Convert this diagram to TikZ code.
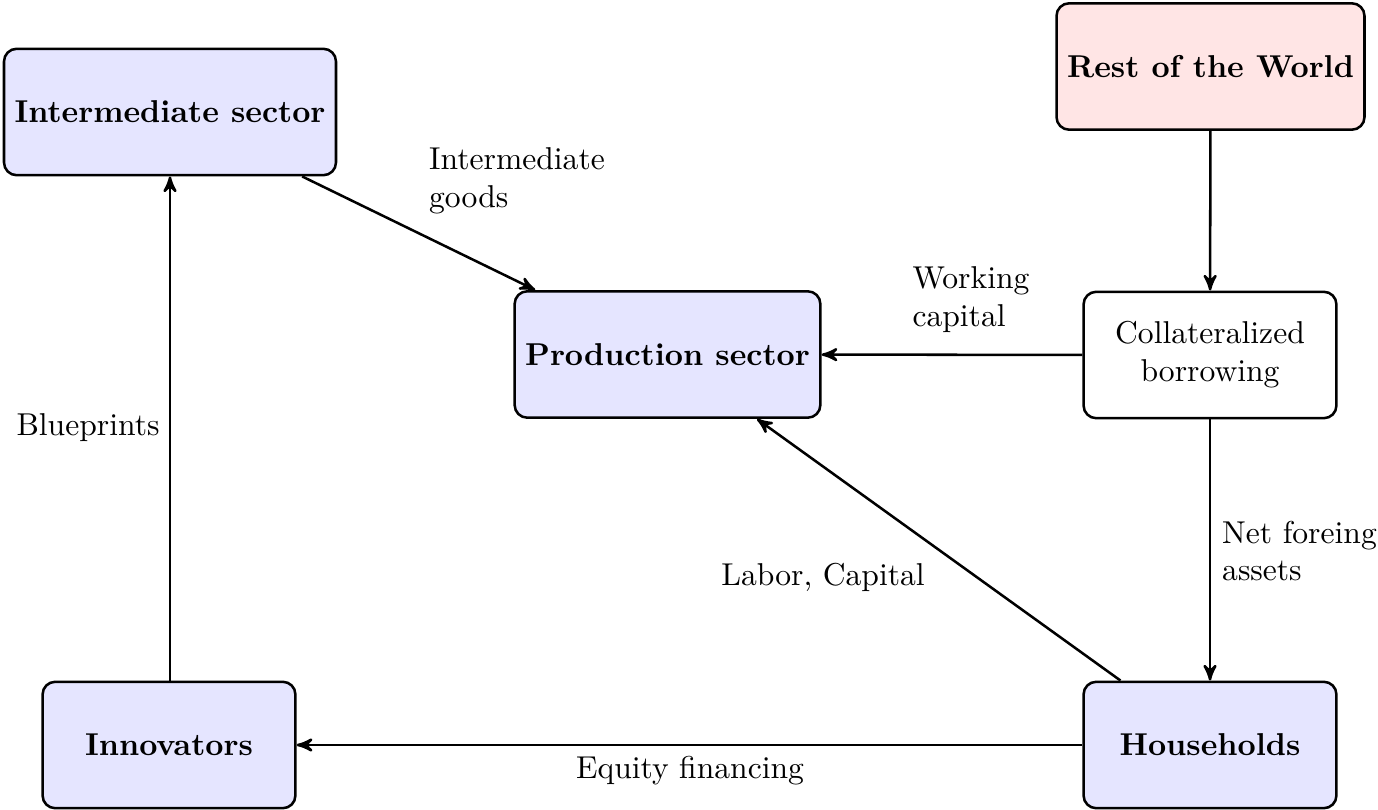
\documentclass[tikz,border=0pt]{standalone}
\usetikzlibrary{arrows}
\begin{document}
\begin{tikzpicture}[x=0.3164pt,y=-0.3164pt,
  box/.style={draw,thick,rounded corners=4pt,minimum width=80pt,minimum height=40pt,align=center,inner sep=3.33pt},
  bluebox/.style={box,fill=blue!10,font=\bfseries},
  redbox/.style={box,fill=red!10,font=\bfseries},
  whitebox/.style={box,fill=white},
  flow/.style={thick,-stealth'},
  lbl/.style={align=left,inner sep=0pt}]
\useasboundingbox (0,0) rectangle (1378,810);
\node[bluebox] (inter) at (170,112) {Intermediate sector};
\node[redbox] (row) at (1210.5,66.5) {Rest of the World};
\node[bluebox] (prod) at (667.5,354.5) {Production sector};
\node[whitebox] (coll) at (1210,355) {Collateralized\\borrowing};
\node[bluebox] (innov) at (169,745) {Innovators};
\node[bluebox] (house) at (1210,745) {Households};

\draw[flow] (inter) -- (prod);
\draw[flow] (row) -- (coll);
\draw[flow] (coll) -- (prod);
\draw[flow] (coll) -- (house);
\draw[flow] (house) -- (prod);
\draw[flow] (house) -- (innov);
\draw[flow] (innov.north -| inter.south) -- (inter.south);

\node[lbl] (l1) at (517,181) {Intermediate\\goods};
\node[lbl] (l2) at (971,300) {Working\\capital};
\node[lbl] (l3) at (1299.5,551) {Net foreing\\assets};
\node[lbl] (l4) at (823,577) {Labor, Capital};
\node[lbl] (l5) at (690,771) {Equity financing};
\node[lbl] (l6) at (88,428) {Blueprints};
\end{tikzpicture}
\end{document}
